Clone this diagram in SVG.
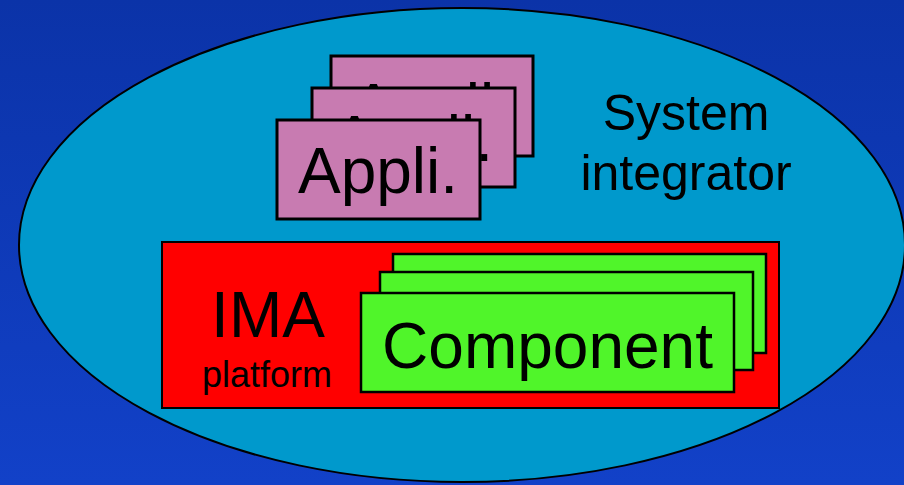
<svg xmlns="http://www.w3.org/2000/svg" width="904" height="485" viewBox="0 0 904 485">
  <defs>
    <linearGradient id="bg" x1="0" y1="0" x2="0" y2="1">
      <stop offset="0" stop-color="#0B33A8"/>
      <stop offset="1" stop-color="#1241C8"/>
    </linearGradient>
  </defs>
  <style>
    text { font-family: "Liberation Sans", Arial, sans-serif; fill: #000; }
    .appli { fill: #C87BB1; stroke: #000; stroke-width: 3; }
    .comp { fill: #50F52A; stroke: #000; stroke-width: 2.5; }
    .big { font-size: 64px; text-anchor: middle; }
  </style>

  <rect x="0" y="0" width="904" height="485" fill="url(#bg)"/>

  <!-- system integrator scope -->
  <g id="system-integrator">
    <ellipse cx="462" cy="245" rx="443" ry="237" fill="#0099CC" stroke="#000" stroke-width="2"/>
    <text x="686" y="130" font-size="50" text-anchor="middle">System</text>
    <text x="686" y="190" font-size="50" text-anchor="middle">integrator</text>
  </g>

  <!-- stacked applications -->
  <g id="appli-3">
    <rect class="appli" x="331" y="56" width="202" height="100"/>
    <text class="big" x="432" y="129">Appli.</text>
  </g>
  <g id="appli-2">
    <rect class="appli" x="312" y="88" width="203" height="99"/>
    <text class="big" x="413" y="161">Appli.</text>
  </g>
  <g id="appli-1">
    <rect class="appli" x="277" y="120" width="203" height="99"/>
    <text class="big" x="378" y="193">Appli.</text>
  </g>

  <!-- IMA platform -->
  <g id="ima-platform">
    <rect x="162" y="242" width="617" height="166" fill="#FF0000" stroke="#000" stroke-width="2"/>
    <text class="big" x="268" y="337">IMA</text>
    <text x="267" y="387" font-size="36" text-anchor="middle">platform</text>
  </g>

  <!-- stacked components -->
  <g id="component-3">
    <rect class="comp" x="393" y="254" width="373" height="99"/>
  </g>
  <g id="component-2">
    <rect class="comp" x="380" y="272" width="373" height="98"/>
  </g>
  <g id="component-1">
    <rect class="comp" x="361" y="293" width="373" height="99"/>
    <text class="big" x="547.5" y="368">Component</text>
  </g>

  <g id="connectors"/>
</svg>
